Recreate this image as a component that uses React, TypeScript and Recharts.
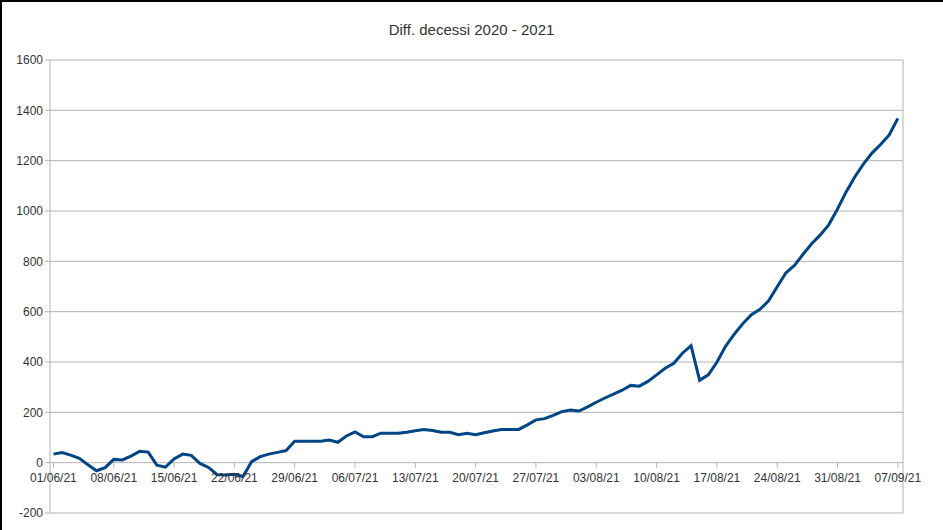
import React from "react";
import {
  LineChart,
  Line,
  XAxis,
  YAxis,
  CartesianGrid,
  ReferenceLine,
} from "recharts";

// Diff. decessi 2020 - 2021, one value per day from 01/06/21 to 07/09/21
const june = [
  34, 40, 30, 17, -8, -32, -20, 13, 11, 26, 45, 42, -10, -18, 15, 34, 29, -3,
  -19, -48, -49, -46, -55, 4, 24, 34, 41, 48, 85, 85,
];
const july = [
  85, 85, 90, 81, 106, 122, 103, 103, 117, 117, 117, 121, 127, 132, 128, 121,
  121, 111, 117, 111, 119, 126, 132, 132, 132, 150, 170, 175, 188, 203, 209,
];
const august = [
  205, 222, 240, 257, 272, 288, 307, 304, 323, 349, 375, 395, 435, 465, 327,
  349, 399, 462, 510, 552, 588, 609, 643, 699, 754, 784, 828, 870, 905, 946,
  1008,
];
const september = [1076, 1135, 1186, 1230, 1264, 1302, 1368];

const tickLabels = [
  "01/06/21",
  "08/06/21",
  "15/06/21",
  "22/06/21",
  "29/06/21",
  "06/07/21",
  "13/07/21",
  "20/07/21",
  "27/07/21",
  "03/08/21",
  "10/08/21",
  "17/08/21",
  "24/08/21",
  "31/08/21",
  "07/09/21",
];
const yTicks = [-200, 0, 200, 400, 600, 800, 1000, 1200, 1400, 1600];

const values = [...june, ...july, ...august, ...september];
const data = values.map((v, i) => ({ day: i, value: v }));
const xTicks = tickLabels.map((_, i) => i * 7);

const W = 943;
const H = 530;
const X_AXIS_H = 1;
const MARGIN = { top: 60, right: 40, bottom: 16, left: 0 };
const Y_MIN = -200;
const Y_MAX = 1600;
const X_MIN = -0.4;
const X_MAX = 98.6;
const PLOT_H = H - MARGIN.top - MARGIN.bottom - X_AXIS_H;
// the category labels sit on the zero line, not at the bottom of the plot
const ZERO_UP = ((0 - Y_MIN) / (Y_MAX - Y_MIN)) * PLOT_H;

const GRID = "#b3b3b3";
const FONT = "'Liberation Sans', Arial, sans-serif";

const DateTick = (props: any) => {
  const { x, y, payload } = props;
  const zy = y - ZERO_UP;
  return (
    <g>
      <line x1={x} y1={zy} x2={x} y2={zy + 5} stroke={GRID} />
      <text
        x={x}
        y={zy + 19}
        textAnchor="middle"
        fontSize={12}
        fill="#333"
        fontFamily={FONT}
      >
        {tickLabels[Math.round(payload.value / 7)]}
      </text>
    </g>
  );
};

export default function App() {
  return (
    <div
      style={{
        position: "absolute",
        left: 0,
        top: 0,
        width: W,
        height: H,
        background: "#fff",
      }}
    >
      <div
        style={{
          position: "absolute",
          left: 0,
          top: 22,
          width: W,
          textAlign: "center",
          fontFamily: FONT,
          fontSize: 15,
          color: "#333",
          lineHeight: "15px",
        }}
      >
        Diff. decessi 2020 - 2021
      </div>
      <LineChart width={W} height={H} data={data} margin={MARGIN}>
        <CartesianGrid vertical={false} stroke={GRID} />
        <XAxis
          dataKey="day"
          type="number"
          domain={[X_MIN, X_MAX]}
          ticks={xTicks}
          height={X_AXIS_H}
          axisLine={false}
          tickLine={false}
          tickSize={0}
          tickMargin={0}
          tick={<DateTick />}
          interval={0}
          allowDataOverflow
        />
        <YAxis
          type="number"
          domain={[Y_MIN, Y_MAX]}
          ticks={yTicks}
          width={50}
          axisLine={{ stroke: GRID }}
          tickLine={{ stroke: GRID }}
          tickSize={5}
          tick={{ fontSize: 12, fill: "#333", fontFamily: FONT }}
          interval={0}
        />
        <ReferenceLine x={X_MAX} stroke={GRID} />
        <Line
          type="linear"
          dataKey="value"
          stroke="#004586"
          strokeWidth={3}
          dot={false}
          isAnimationActive={false}
        />
      </LineChart>
      <div
        style={{
          position: "absolute",
          left: 0,
          top: 0,
          width: W,
          height: H,
          boxSizing: "border-box",
          borderTop: "2px solid #000",
          borderLeft: "2px solid #000",
          pointerEvents: "none",
        }}
      />
    </div>
  );
}
